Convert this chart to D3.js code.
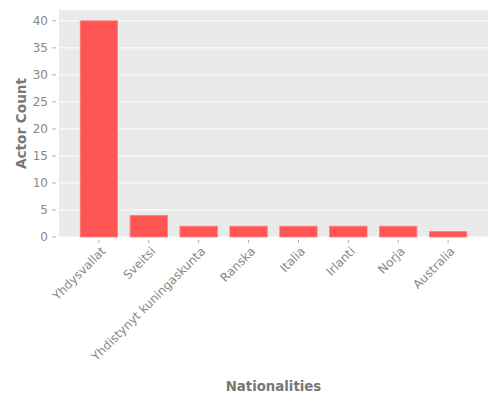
<!DOCTYPE html>
<html><head><meta charset="utf-8">
<script src="https://cdn.jsdelivr.net/npm/d3@7"></script>
<style>body{margin:0;background:#fff}svg{display:block}</style>
</head><body>
<script>
const categories = ["Yhdysvallat","Sveitsi","Yhdistynyt kuningaskunta","Ranska","Italia","Irlanti","Norja","Australia"];
const counts = [40,4,2,2,2,2,2,1];
const yTicks = [0,5,10,15,20,25,30,35,40];

const W=500,H=400;
const m={left:59,right:12,top:10,bottom:163};
const pw=W-m.left-m.right, ph=H-m.top-m.bottom;
const svg=d3.select("body").append("svg").attr("width",W).attr("height",H);
const g=svg.append("g").attr("transform",`translate(${m.left},${m.top})`);

const x=d3.scaleLinear().domain([-0.8,categories.length-0.2]).range([0,pw]);
const y=d3.scaleLinear().domain([0,42]).range([ph,0]);
const bw=(x(1)-x(0))*0.75;

g.append("rect").attr("width",pw).attr("height",ph).attr("fill","#eaeaea");
g.selectAll(".grid").data(yTicks).enter().append("line")
  .attr("x1",0).attr("x2",pw).attr("y1",d=>y(d)).attr("y2",d=>y(d))
  .attr("stroke","#fff").attr("stroke-width",1);

g.selectAll(".bar").data(counts).enter().append("rect")
  .attr("x",(d,i)=>x(i)-bw/2).attr("width",bw)
  .attr("y",d=>y(d)).attr("height",d=>y(0)-y(d))
  .attr("fill","#ff5555").attr("stroke","#ff8080").attr("stroke-width",0.8);

// y axis
const ya=g.append("g");
ya.selectAll("line").data(yTicks).enter().append("line")
  .attr("x1",-7).attr("x2",-3).attr("y1",d=>y(d)).attr("y2",d=>y(d))
  .attr("stroke","#b0b0b0");
ya.selectAll("text").data(yTicks).enter().append("text")
  .attr("x",-11).attr("y",d=>y(d)).attr("dy","0.35em").attr("text-anchor","end")
  .attr("font-family","DejaVu Sans").attr("font-size","12px").attr("fill","#888")
  .text(d=>d);

// x axis
const xa=g.append("g").attr("transform",`translate(0,${ph})`);
xa.selectAll("line").data(categories).enter().append("line")
  .attr("x1",(d,i)=>x(i)).attr("x2",(d,i)=>x(i)).attr("y1",3).attr("y2",6)
  .attr("stroke","#b0b0b0");
xa.selectAll("text").data(categories).enter().append("text")
  .attr("transform",(d,i)=>`translate(${x(i)+4.5},12) rotate(-45)`)
  .attr("dy","0.35em").attr("text-anchor","end")
  .attr("font-family","DejaVu Sans").attr("font-size","12px").attr("fill","#888")
  .text(d=>d);

svg.append("text").attr("x",m.left+pw/2).attr("y",391).attr("text-anchor","middle")
  .attr("font-family","DejaVu Sans").attr("font-weight","bold").attr("font-size","13.3px")
  .attr("fill","#777").text("Nationalities");
svg.append("text").attr("transform",`translate(26,${m.top+ph/2}) rotate(-90)`)
  .attr("text-anchor","middle")
  .attr("font-family","DejaVu Sans").attr("font-weight","bold").attr("font-size","13.6px")
  .attr("fill","#777").text("Actor Count");
</script>
</body></html>
